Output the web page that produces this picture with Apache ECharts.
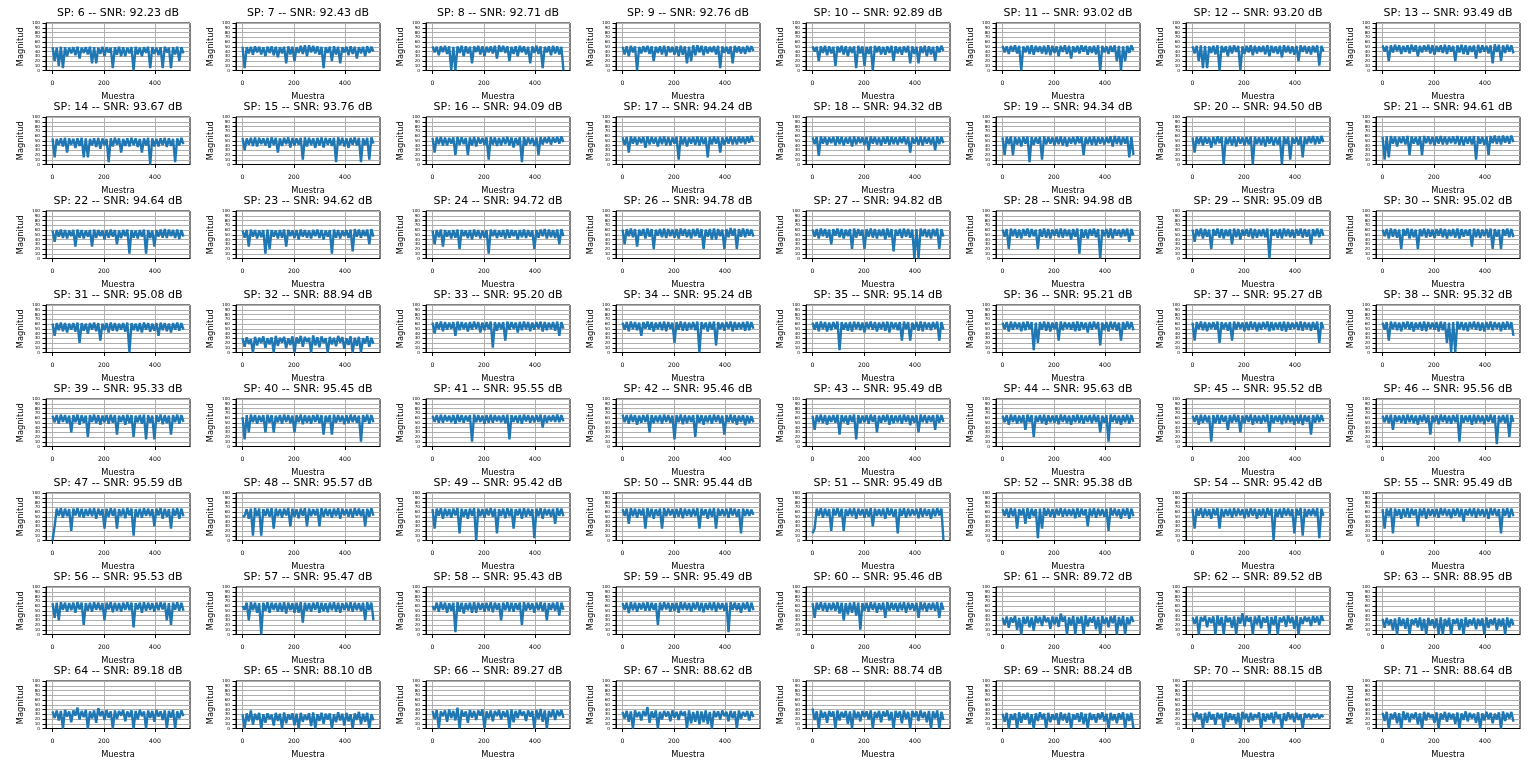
<!DOCTYPE html>
<html><head><meta charset="utf-8">
<script src="https://cdn.jsdelivr.net/npm/echarts@6/dist/echarts.min.js"></script>
<style>html,body{margin:0;padding:0;background:#fff}#chart{width:1536px;height:762px}</style>
</head><body><div id="chart"></div>
<script>
const spIds = [6,7,8,9,10,11,12,13, 14,15,16,17,18,19,20,21, 22,23,24,26,27,28,29,30, 31,32,33,34,35,36,37,38,
  39,40,41,42,43,44,45,46, 47,48,49,50,51,52,54,55, 56,57,58,59,60,61,62,63, 64,65,66,67,68,69,70,71];
const snrValues = [92.23,92.43,92.71,92.76,92.89,93.02,93.20,93.49, 93.67,93.76,94.09,94.24,94.32,94.34,94.50,94.61,
  94.64,94.62,94.72,94.78,94.82,94.98,95.09,95.02, 95.08,88.94,95.20,95.24,95.14,95.21,95.27,95.32,
  95.33,95.45,95.55,95.46,95.49,95.63,95.52,95.56, 95.59,95.57,95.42,95.44,95.49,95.38,95.42,95.49,
  95.53,95.47,95.43,95.49,95.46,89.72,89.52,88.95, 89.18,88.10,89.27,88.62,88.74,88.24,88.15,88.64];
const xTickValues = [0,200,400];
const lastSample = 511;

const mag_sp6 = [49,20,48,10,50,5,49,30,48,36,49,32,50,25,48,37,49,34,50,15,49,15,48,35,50,30,49,38,48,5,49,33,50,30,49,30,48,36,49,0,50,34,48,30,49,37,50,5,49,35,48,32,49,5,50,38,48,5,49,34,50,20,49,36];
const mag_sp7 = [50,5,49,36,50,33,51,38,50,34,49,30,50,37,51,32,50,28,49,36,50,15,51,34,50,20,49,37,52,35,53,30,53,38,52,36,51,33,50,5,49,37,50,20,51,34,50,15,49,38,50,32,51,35,50,25,49,36,50,30,51,37,50,40];
const mag_sp8 = [51,38,50,32,51,39,52,35,51,0,50,0,51,37,52,30,51,36,50,15,51,39,52,34,51,30,50,38,51,36,52,25,53,39,52,37,51,20,50,35,51,30,52,38,51,34,50,15,51,37,52,35,51,5,50,38,51,32,52,36,51,34,50,0];
const mag_sp9 = [50,34,51,30,52,38,51,0,50,36,51,39,52,35,51,20,50,37,51,34,52,30,51,38,50,33,51,30,52,33,51,15,50,20,53,32,53,38,52,32,51,36,50,39,51,34,52,5,51,37,50,35,51,15,52,38,51,36,50,35,52,39,51,41];
const mag_sp10 = [51,40,50,20,51,37,52,32,51,36,50,10,51,38,52,34,51,30,50,37,51,5,52,36,51,10,50,35,51,0,52,38,51,34,50,33,51,37,52,20,51,36,50,33,51,38,52,15,51,35,50,15,51,37,52,30,51,34,50,20,51,38,52,41];
const mag_sp11 = [52,38,51,35,52,40,53,36,52,0,51,38,52,35,53,33,52,39,51,36,52,34,53,32,52,37,51,30,52,39,53,35,52,25,51,38,52,36,53,40,52,33,51,37,52,34,53,0,52,38,51,35,52,39,53,20,52,0,51,20,52,37,53,42];
const mag_sp12 = [51,36,52,20,53,5,52,5,51,37,52,34,53,0,52,38,51,30,52,36,53,39,52,0,51,35,52,38,53,32,52,36,51,39,52,34,53,30,52,37,51,35,52,28,53,38,52,36,51,33,52,20,53,39,52,36,51,34,52,38,53,10,52,40];
const mag_sp13 = [53,40,52,20,53,38,54,41,53,35,52,39,53,36,54,40,53,30,52,38,53,41,54,36,53,33,52,39,53,37,54,35,53,40,52,20,53,38,54,35,53,33,52,39,53,25,54,37,53,40,52,36,53,15,55,39,54,20,53,37,54,40,53,36];
const mag_sp14 = [55,15,54,41,55,38,56,25,55,42,54,35,55,39,56,15,55,15,54,40,55,37,56,33,55,41,54,5,55,38,56,42,55,25,54,39,55,38,56,41,55,37,54,25,55,40,56,0,55,38,54,38,55,41,56,37,55,39,54,5,55,40,56,43];
const mag_sp15 = [56,30,55,42,56,39,57,38,56,43,55,40,56,35,57,41,56,25,55,39,56,43,57,36,56,40,55,42,56,10,57,38,56,41,55,35,56,40,57,36,56,42,55,39,56,5,57,41,56,38,55,35,56,42,57,40,56,5,55,41,56,10,57,44];
const mag_sp16 = [56,25,57,43,58,40,57,40,56,44,57,20,58,41,57,43,56,20,57,40,58,38,57,44,56,41,57,10,58,42,57,39,56,40,57,43,58,40,57,36,56,42,57,5,58,40,57,43,56,39,57,20,58,42,57,45,58,42,57,46,58,44,59,47];
const mag_sp17 = [57,41,58,25,59,44,58,41,57,45,58,35,59,42,58,44,57,38,58,43,59,40,58,40,57,44,58,10,59,42,58,38,57,44,58,41,59,40,58,43,57,15,58,42,59,44,58,25,57,41,58,44,59,42,58,42,59,45,58,43,59,46,60,48];
const mag_sp18 = [57,43,58,18,59,44,58,41,57,45,58,40,59,43,58,40,57,44,58,38,59,42,58,45,57,41,58,30,59,44,58,42,57,40,58,44,59,41,58,43,57,42,58,45,59,42,58,25,57,44,58,41,59,40,58,44,57,42,58,30,59,43,58,45];
const mag_sp19 = [57,20,58,43,59,20,58,42,57,38,58,44,59,5,58,41,57,44,58,10,59,42,58,44,57,40,58,43,59,40,58,38,57,44,58,42,59,45,58,20,57,43,58,41,59,40,58,44,57,42,58,45,59,38,60,43,59,41,58,44,59,15,58,20];
const mag_sp20 = [57,25,58,43,59,40,58,44,57,35,58,42,59,45,58,0,57,43,58,40,59,38,58,44,57,40,58,42,59,0,58,43,57,41,58,38,59,44,58,40,57,42,58,0,59,43,58,10,57,44,58,41,59,15,58,43,59,45,60,42,59,44,60,47];
const mag_sp21 = [58,10,59,15,60,44,59,38,58,45,59,42,60,20,59,44,58,41,59,20,60,45,59,43,58,40,59,44,60,42,59,42,58,45,59,43,60,41,59,40,58,44,59,42,60,10,59,44,58,41,59,20,60,45,61,43,60,42,61,46,60,44,61,47];
const mag_sp22 = [59,35,60,46,61,43,60,42,59,47,60,25,61,44,60,42,59,46,60,25,61,43,60,47,59,40,60,44,61,46,60,30,59,43,60,47,61,10,60,44,59,42,60,46,61,10,60,43,59,25,60,46,61,44,62,43,61,47,60,43,61,41,60,46];
const mag_sp23 = [59,44,60,25,61,46,60,42,59,45,60,10,61,20,60,46,59,42,60,44,61,25,60,47,59,43,60,40,61,46,60,44,59,42,60,47,61,43,60,40,59,46,60,10,61,44,60,42,59,47,60,43,61,15,62,46,61,44,60,47,61,30,62,46];
const mag_sp24 = [59,30,60,45,61,25,60,46,59,42,60,44,61,20,60,47,59,43,60,40,61,46,60,42,59,44,60,10,61,47,60,43,59,46,60,42,61,44,60,47,59,40,60,45,61,43,60,46,59,20,60,44,61,47,62,42,61,45,60,43,61,30,62,47];
const mag_sp26 = [61,30,62,47,63,45,62,25,61,48,62,42,63,46,62,20,61,48,62,45,63,43,62,47,61,44,62,42,63,48,62,45,61,42,62,47,63,44,62,20,61,46,62,40,63,40,62,47,61,20,62,45,64,48,63,20,62,46,63,45,62,48,61,46];
const mag_sp27 = [61,46,62,42,63,47,62,44,61,30,62,48,63,45,62,42,61,47,62,20,63,44,62,48,61,20,62,46,63,44,62,42,61,47,62,40,63,45,62,15,61,48,62,43,63,46,62,44,61,0,62,0,63,47,62,45,61,42,62,47,63,20,62,46];
const mag_sp28 = [61,46,62,20,63,47,62,44,61,42,62,48,63,45,62,47,61,20,62,46,63,44,62,42,61,48,62,45,63,44,62,47,61,40,62,46,63,10,62,44,61,42,62,48,63,45,62,0,61,47,62,44,63,42,62,48,61,45,62,47,63,35,62,48];
const mag_sp29 = [61,35,62,47,63,42,62,46,61,20,62,48,63,44,62,42,61,47,62,30,63,45,62,40,61,48,62,46,63,42,62,44,61,47,62,45,63,0,62,48,61,44,62,42,63,47,62,45,61,43,62,48,63,44,62,46,61,30,62,47,63,45,62,48];
const mag_sp30 = [61,47,62,42,63,46,62,44,61,20,62,48,63,42,62,45,61,20,62,47,63,44,62,46,61,43,62,48,63,45,62,42,61,47,62,44,63,42,62,46,61,48,62,25,63,45,62,43,61,47,62,44,63,20,62,46,61,20,62,48,63,45,62,45];
const mag_sp31 = [61,35,62,47,63,45,62,42,61,48,62,44,63,20,62,46,61,40,62,48,63,45,62,25,61,47,62,42,63,46,62,45,61,48,62,44,63,0,62,47,61,45,62,42,63,48,62,44,61,46,62,35,63,47,62,45,61,42,62,48,63,46,62,48];
const mag_sp32 = [30,12,32,18,28,0,33,15,31,20,34,10,30,17,32,0,35,14,31,21,33,9,30,16,34,0,32,19,35,12,33,22,31,0,36,15,32,11,34,20,30,0,33,17,31,13,35,21,32,8,30,16,34,0,31,14,33,0,30,19,34,12,31,18];
const mag_sp33 = [63,40,64,49,65,45,64,48,63,50,64,35,65,47,64,49,63,44,64,48,65,50,64,42,63,47,64,49,65,10,64,46,63,49,64,25,65,48,64,50,63,42,64,47,65,49,64,45,63,48,64,50,65,44,64,47,63,49,64,46,65,35,64,50];
const mag_sp34 = [63,48,64,45,65,49,64,47,63,35,64,50,65,48,64,44,63,49,64,47,65,45,64,50,63,20,64,48,65,46,64,46,63,49,64,47,65,0,64,50,63,44,64,48,65,15,64,49,63,46,64,50,65,45,64,48,63,49,64,46,65,47,64,50];
const mag_sp35 = [63,48,64,45,65,49,64,44,63,47,64,50,65,5,64,48,63,46,64,44,65,49,64,47,63,42,64,50,65,48,64,44,63,49,64,46,65,42,64,50,63,47,64,25,65,49,64,25,63,48,64,46,65,45,64,49,63,47,64,50,65,25,64,48];
const mag_sp36 = [63,49,64,44,65,48,64,50,63,45,64,47,65,49,64,5,63,20,64,48,65,46,64,44,63,49,64,25,65,47,64,50,63,48,64,45,65,46,64,49,63,42,64,48,65,50,64,15,63,47,64,44,65,49,64,46,63,25,64,48,65,50,64,47];
const mag_sp37 = [63,25,64,49,65,47,64,45,63,50,64,48,65,20,64,49,63,46,64,25,65,48,64,50,63,45,64,47,65,49,64,44,63,48,64,50,65,45,64,47,63,49,64,46,65,44,64,48,63,50,64,47,65,46,64,49,63,46,64,48,65,20,64,50];
const mag_sp38 = [63,48,64,25,65,49,64,47,63,45,64,50,65,48,64,44,63,49,64,46,65,45,64,50,63,48,64,44,65,47,64,20,63,0,64,0,65,49,64,47,63,45,64,50,65,48,64,46,63,44,64,49,65,47,64,50,63,45,64,48,65,49,64,35];
const mag_sp39 = [65,51,66,48,67,52,66,49,65,30,66,51,67,46,66,50,65,20,66,52,67,49,66,46,65,51,66,48,67,50,66,25,65,52,66,46,67,49,66,20,65,51,66,48,67,15,66,50,65,15,66,52,67,47,66,49,65,25,66,51,67,48,66,52];
const mag_sp40 = [62,15,66,30,67,51,66,48,65,52,66,30,67,50,66,30,65,51,66,48,67,52,66,49,65,30,66,51,67,47,66,50,65,48,66,52,67,49,66,25,65,51,66,25,67,50,66,52,65,47,66,49,67,51,66,50,65,10,66,52,67,48,66,51];
const mag_sp41 = [65,52,66,50,67,50,66,53,65,51,66,48,67,52,66,50,65,53,66,10,67,51,66,52,65,48,66,50,67,50,66,53,65,51,66,49,67,15,66,52,65,50,66,48,67,53,66,50,65,51,66,52,67,40,66,50,65,53,66,52,67,51,66,53];
const mag_sp42 = [67,51,66,48,67,52,66,46,65,50,66,52,67,30,66,49,65,51,66,48,67,52,66,50,65,15,66,51,67,47,66,49,65,52,66,20,67,50,66,46,65,51,66,48,67,52,66,49,65,25,66,51,67,50,66,46,65,52,66,45,65,49,64,51];
const mag_sp43 = [65,35,66,51,67,49,66,46,65,52,66,50,67,25,66,51,65,46,66,52,67,15,66,49,65,51,66,48,67,52,66,30,65,50,66,52,67,46,66,49,65,51,66,48,67,52,66,45,65,50,66,30,67,51,66,49,65,52,66,35,67,50,66,52];
const mag_sp44 = [65,51,66,46,67,52,66,48,65,50,66,35,67,51,66,20,65,52,66,49,67,46,66,51,65,50,66,47,67,52,66,49,65,46,66,51,67,50,66,48,65,52,66,49,67,51,66,30,65,50,66,10,67,52,66,49,65,46,66,51,67,48,66,52];
const mag_sp45 = [65,52,66,46,67,50,66,51,65,10,66,49,67,48,66,52,65,35,66,50,67,51,66,30,65,49,66,52,67,46,66,50,65,48,66,51,67,30,66,49,65,52,66,47,67,50,66,51,65,46,66,49,67,45,66,52,65,25,66,50,67,51,66,53];
const mag_sp46 = [65,51,66,49,67,35,66,52,65,50,66,48,67,51,66,49,65,46,66,52,67,50,66,25,65,51,66,47,67,52,66,49,65,48,66,51,67,10,66,50,65,52,66,46,67,49,66,51,65,47,66,52,67,50,66,5,65,51,66,49,67,20,66,52];
const mag_sp47 = [0,30,67,52,68,48,67,51,66,20,67,53,68,50,67,48,66,52,67,51,68,46,67,53,66,25,67,50,68,52,67,25,66,51,67,47,68,53,67,10,66,50,67,48,68,52,67,51,66,30,67,53,68,46,67,50,66,25,67,52,68,46,67,51];
const mag_sp48 = [50,52,66,46,67,10,68,51,67,10,66,52,67,50,68,25,67,51,66,48,67,53,68,30,67,50,66,47,67,52,68,30,67,51,66,53,67,30,68,50,67,52,66,48,67,51,68,46,67,53,66,50,67,48,68,52,67,51,66,30,67,50,68,52];
const mag_sp49 = [66,25,67,52,68,46,67,51,66,48,67,53,68,15,67,50,66,46,67,52,68,0,67,51,66,48,67,53,68,50,67,15,66,52,67,47,68,51,67,25,66,53,67,46,68,50,67,52,66,5,67,51,68,46,67,53,66,50,67,35,68,52,67,51];
const mag_sp50 = [66,52,67,35,68,51,67,48,66,53,67,25,68,50,67,46,66,52,67,25,68,51,67,53,66,48,67,50,68,47,67,52,66,50,67,51,68,25,67,53,66,46,67,50,68,25,67,52,66,51,67,48,68,53,67,50,66,15,67,52,66,52,65,54];
const mag_sp51 = [15,25,67,52,68,48,67,51,66,20,67,53,68,50,67,20,66,52,67,51,68,46,67,53,66,48,67,50,68,30,67,52,66,51,67,46,68,53,67,50,66,15,67,52,68,48,67,51,66,53,67,47,68,50,67,52,66,46,67,51,68,53,67,0];
const mag_sp52 = [66,52,67,48,68,51,67,25,66,53,67,35,68,46,67,51,66,5,67,25,68,52,67,50,66,48,67,53,68,50,67,51,66,52,67,47,68,50,67,53,66,30,67,51,68,48,67,52,66,50,67,20,68,53,67,51,66,46,67,52,68,46,67,51];
const mag_sp54 = [66,25,67,52,68,48,67,51,66,46,67,53,68,25,67,50,66,52,67,48,68,51,67,53,66,47,67,50,68,52,67,46,66,51,67,48,68,53,67,0,66,50,67,48,68,52,67,51,66,15,67,53,68,10,67,50,66,52,67,51,68,5,67,52];
const mag_sp55 = [66,25,67,51,68,15,67,52,66,46,67,50,68,48,67,53,66,30,67,51,68,46,67,52,66,50,67,48,68,53,67,51,66,47,67,52,68,50,67,40,66,53,67,51,68,48,67,52,66,50,67,46,68,53,67,51,66,15,67,52,68,48,67,51];
const mag_sp56 = [66,35,67,30,68,52,67,48,66,51,67,46,68,53,67,20,66,50,67,48,68,52,67,51,66,30,67,53,68,47,67,50,66,48,67,52,68,51,67,15,66,53,67,46,68,50,67,52,66,48,67,51,68,53,67,30,66,20,67,52,68,50,67,50];
const mag_sp57 = [60,52,67,30,68,51,67,46,66,0,67,50,68,46,67,52,66,48,67,48,68,44,67,51,66,46,67,46,68,25,67,50,66,48,67,52,68,46,67,49,66,47,67,51,68,48,67,46,66,52,67,50,68,48,67,51,66,49,67,30,68,51,67,30];
const mag_sp58 = [60,51,67,48,68,52,67,46,66,50,67,5,68,48,67,44,66,51,67,46,68,46,67,52,66,48,67,50,68,47,67,52,66,30,67,51,68,49,67,48,66,52,67,20,68,50,67,52,66,46,67,51,68,49,67,30,66,52,67,50,68,40,67,52];
const mag_sp59 = [66,52,67,45,68,51,67,48,66,53,67,50,68,50,67,52,66,20,67,51,68,53,67,48,66,50,67,46,68,52,67,51,66,48,67,53,68,50,67,47,66,52,67,51,68,48,67,53,66,50,67,5,68,52,67,51,66,46,67,53,68,48,67,51];
const mag_sp60 = [66,35,67,52,68,50,67,48,66,51,67,50,68,44,67,30,66,42,67,46,68,40,67,10,66,50,67,48,68,52,67,46,66,51,67,35,68,50,67,52,66,48,67,51,68,46,67,52,66,50,67,35,68,51,67,48,66,52,67,50,68,35,67,52];
const mag_sp61 = [35,20,38,14,36,25,39,10,35,0,37,22,38,15,36,8,39,24,37,18,40,26,36,12,38,21,37,16,44,27,38,0,36,19,39,0,37,23,38,0,40,17,36,25,38,11,37,0,39,22,36,15,38,24,40,0,37,18,39,0,36,21,38,26];
const mag_sp62 = [36,22,38,0,37,28,39,15,36,24,38,0,40,19,37,0,39,26,36,14,38,0,37,23,45,17,39,27,37,0,38,21,40,13,36,25,38,0,37,20,39,0,36,26,38,16,40,24,37,12,39,0,36,22,38,27,37,18,39,25,38,20,40,28];
const mag_sp63 = [33,14,35,20,32,9,34,0,36,18,33,12,35,0,32,21,34,15,36,8,33,0,35,19,32,13,34,0,36,0,33,17,35,0,32,22,34,10,33,0,36,16,32,20,35,11,33,18,34,0,36,14,32,21,35,9,33,17,34,0,36,15,33,20];
const mag_sp64 = [36,22,38,17,37,0,39,25,36,13,38,27,44,19,37,24,39,0,36,21,38,12,43,26,37,18,39,23,36,0,38,20,37,27,39,15,36,24,38,0,37,19,39,26,36,0,38,22,37,14,39,25,36,18,38,0,37,23,39,0,36,21,38,26];
const mag_sp65 = [30,0,32,15,38,8,31,18,33,0,30,12,32,20,29,6,33,16,31,0,34,11,30,19,32,7,31,0,33,14,29,18,32,5,34,0,30,16,33,10,31,19,32,0,30,13,34,17,31,6,33,15,30,0,32,18,35,9,31,14,33,0,30,17];
const mag_sp66 = [37,20,39,0,36,26,38,14,40,22,37,17,44,0,38,25,36,12,39,23,37,18,38,27,40,0,36,21,38,15,37,26,39,19,36,24,38,0,40,13,37,22,39,27,36,16,38,25,37,0,39,20,41,14,38,0,37,24,40,18,38,26,39,22];
const mag_sp67 = [35,21,37,14,36,0,38,24,35,17,37,26,45,12,36,22,38,0,35,19,37,25,36,15,38,23,35,18,37,27,36,0,38,11,35,14,37,9,36,13,38,10,35,0,37,24,36,19,38,26,35,15,37,22,36,0,38,20,35,25,37,17,36,24];
const mag_sp68 = [42,18,36,0,38,22,35,12,37,25,36,0,38,17,35,23,37,10,36,0,38,21,35,15,37,24,36,19,38,0,35,22,37,13,36,25,38,17,35,0,37,23,36,11,38,20,35,0,37,24,36,16,38,22,35,13,37,0,36,21,38,0,35,18];
const mag_sp69 = [31,14,33,0,30,18,32,0,34,12,31,19,33,9,30,0,32,16,34,20,31,0,33,13,30,18,32,8,34,17,31,12,33,0,30,19,32,14,34,10,31,0,33,18,30,12,32,20,34,15,31,0,33,17,30,11,32,19,34,0,31,16,33,0];
const mag_sp70 = [32,15,34,20,31,0,33,12,35,19,30,8,33,21,31,0,34,14,32,18,30,10,33,0,35,20,31,13,33,17,30,22,34,0,32,15,31,19,33,11,35,21,30,0,32,16,34,20,31,13,33,18,30,0,32,22,31,20,30,23,31,21,29,24];
const mag_sp71 = [33,16,35,0,31,20,34,11,32,0,36,18,33,13,31,21,34,9,32,0,35,17,33,22,30,12,34,0,32,19,35,14,33,20,31,10,34,0,32,18,36,15,33,21,31,12,34,0,32,17,35,20,33,11,31,19,34,0,36,16,33,21,35,14];

const magnitudes = [mag_sp6,mag_sp7,mag_sp8,mag_sp9,mag_sp10,mag_sp11,mag_sp12,mag_sp13,
  mag_sp14,mag_sp15,mag_sp16,mag_sp17,mag_sp18,mag_sp19,mag_sp20,mag_sp21,
  mag_sp22,mag_sp23,mag_sp24,mag_sp26,mag_sp27,mag_sp28,mag_sp29,mag_sp30,
  mag_sp31,mag_sp32,mag_sp33,mag_sp34,mag_sp35,mag_sp36,mag_sp37,mag_sp38,
  mag_sp39,mag_sp40,mag_sp41,mag_sp42,mag_sp43,mag_sp44,mag_sp45,mag_sp46,
  mag_sp47,mag_sp48,mag_sp49,mag_sp50,mag_sp51,mag_sp52,mag_sp54,mag_sp55,
  mag_sp56,mag_sp57,mag_sp58,mag_sp59,mag_sp60,mag_sp61,mag_sp62,mag_sp63,
  mag_sp64,mag_sp65,mag_sp66,mag_sp67,mag_sp68,mag_sp69,mag_sp70,mag_sp71];

const COLS = 8;
const FONT = 'DejaVu Sans';
const chart = echarts.init(document.getElementById('chart'), null, {renderer: 'canvas'});
const grids = [], xAxes = [], yAxes = [], series = [], titles = [];

magnitudes.forEach((vals, n) => {
  const c = n % COLS, r = Math.floor(n / COLS);
  const left = 46 + 190 * c, top = 23 + 94 * r, w = 144, h = 47.5;
  grids.push({left: left, top: top, width: w, height: h, show: true, borderColor: '#000', borderWidth: 1,
    backgroundColor: 'transparent', containLabel: false, outerBoundsMode: 'none'});
  titles.push({text: 'SP: ' + spIds[n] + ' -- SNR: ' + snrValues[n].toFixed(2) + ' dB',
    left: left + w / 2, top: top - 15, textAlign: 'center', padding: 0,
    textStyle: {fontFamily: FONT, fontSize: 11, fontWeight: 'normal', color: '#000'}});
  xAxes.push({gridIndex: n, type: 'value', min: -25.55, max: 536.55,
    name: 'Muestra', nameLocation: 'middle', nameGap: 22,
    nameTextStyle: {fontFamily: FONT, fontSize: 8.3, color: '#000'},
    axisLine: {show: true, onZero: false, lineStyle: {color: '#000', width: 1}},
    axisTick: {show: true, length: 3.5, customValues: xTickValues, lineStyle: {color: '#000', width: 1}},
    axisLabel: {show: true, customValues: xTickValues, fontFamily: FONT, fontSize: 6.2, color: '#000', margin: 10},
    splitLine: {show: true, lineStyle: {color: '#b0b0b0', width: 1}}});
  yAxes.push({gridIndex: n, type: 'value', min: 0, max: 100, interval: 10,
    name: 'Magnitud', nameLocation: 'middle', nameGap: 21,
    nameTextStyle: {fontFamily: FONT, fontSize: 8.3, color: '#000'},
    axisLine: {show: true, onZero: false, lineStyle: {color: '#000', width: 1}},
    axisTick: {show: true, length: 3.5, lineStyle: {color: '#000', width: 1}},
    axisLabel: {show: true, fontFamily: FONT, fontSize: 4.2, color: '#000', margin: 6},
    splitLine: {show: true, lineStyle: {color: '#b0b0b0', width: 1}}});
  const step = lastSample / (vals.length - 1);
  series.push({type: 'line', xAxisIndex: n, yAxisIndex: n, symbol: 'none', showSymbol: false,
    silent: true, animation: false, clip: true,
    lineStyle: {color: '#1f77b4', width: 2.4, join: 'bevel'}, itemStyle: {color: '#1f77b4'},
    data: vals.map((v, i) => [i * step, v])});
});

chart.setOption({animation: false, backgroundColor: '#fff', title: titles, grid: grids,
  xAxis: xAxes, yAxis: yAxes, series: series});
</script></body></html>
